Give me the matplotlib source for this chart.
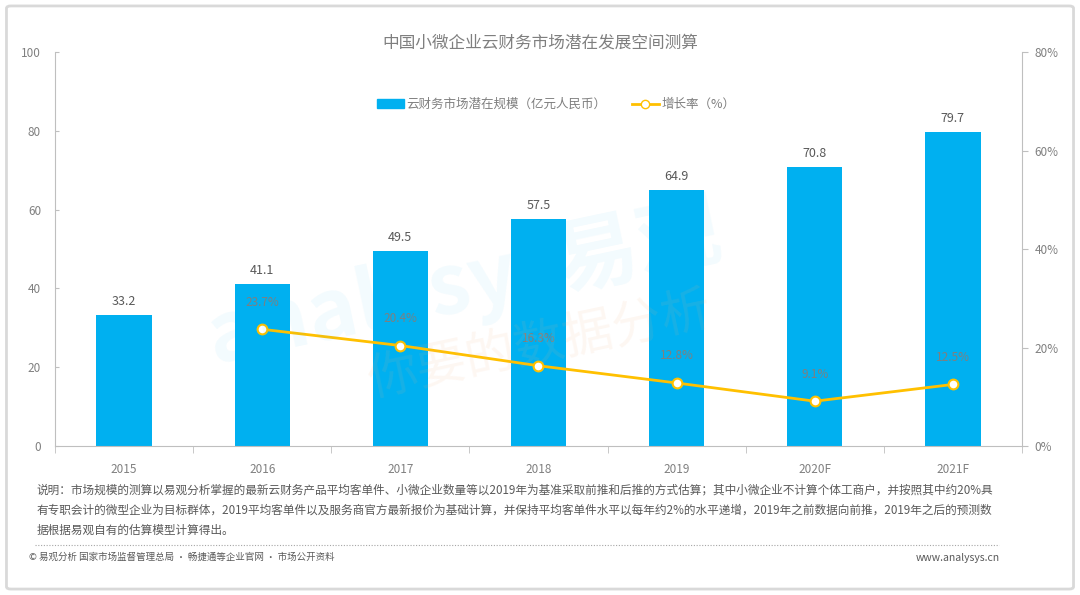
import matplotlib
matplotlib.use('Agg')
import matplotlib.pyplot as plt
from matplotlib.patches import FancyBboxPatch
from matplotlib.lines import Line2D
import numpy as np

plt.rcParams['font.family'] = ['Noto Sans CJK SC', 'DejaVu Sans']

years = ['2015', '2016', '2017', '2018', '2019', '2020F', '2021F']
market_size = [33.2, 41.1, 49.5, 57.5, 64.9, 70.8, 79.7]
growth_years = ['2016', '2017', '2018', '2019', '2020F', '2021F']
growth_rate = [23.7, 20.4, 16.3, 12.8, 9.1, 12.5]

title = '中国小微企业云财务市场潜在发展空间测算'
bar_label = '云财务市场潜在规模（亿元人民币）'
line_label = '增长率（%）'
note_lines = [
    '说明：市场规模的测算以易观分析掌握的最新云财务产品平均客单件、小微企业数量等以2019年为基准采取前推和后推的方式估算；其中小微企业不计算个体工商户，并按照其中约20%具',
    '有专职会计的微型企业为目标群体，2019平均客单件以及服务商官方最新报价为基础计算，并保持平均客单件水平以每年约2%的水平递增，2019年之前数据向前推，2019年之后的预测数',
    '据根据易观自有的估算模型计算得出。',
]
source = '© 易观分析 国家市场监督管理总局 · 畅捷通等企业官网 · 市场公开资料'
site = 'www.analysys.cn'

bar_color = '#00B0F0'
line_color = '#FFC000'
grey = '#808080'

fig = plt.figure(figsize=(10.8, 5.95), dpi=100)

# outer frame
frame = FancyBboxPatch((0.006, 0.01), 0.988, 0.98, boxstyle='round,pad=0,rounding_size=0.004',
                       transform=fig.transFigure, fill=False, edgecolor='#d9d9d9', linewidth=2)
fig.patches.append(frame)

ax = fig.add_axes([0.0509, 0.2504, 0.8954, 0.6622])
x = np.arange(len(years))
ax.bar(x, market_size, width=0.4, color=bar_color, zorder=2)
for xi, v in zip(x, market_size):
    ax.text(xi, v + 1.8, f'{v:.1f}', ha='center', va='bottom', fontsize=9, color='#595959')

ax.set_xlim(-0.5, len(years) - 0.5)
ax.set_ylim(0, 100)
ax.set_yticks(range(0, 101, 20))
ax.set_xticks(x)
ax.set_xticklabels(years)
ax.set_xticks(np.arange(-0.5, len(years), 1), minor=True)
ax.tick_params(axis='x', which='major', length=0, pad=12, labelsize=8.5, labelcolor=grey)
ax.tick_params(axis='x', which='minor', length=5, color='#bfbfbf', direction='out')
ax.tick_params(axis='y', length=3, direction='in', color='#bfbfbf', labelsize=8.5,
               labelcolor=grey, pad=10)
for s in ['top', 'right']:
    ax.spines[s].set_visible(False)
for s in ['left', 'bottom']:
    ax.spines[s].set_color('#bfbfbf')

ax2 = ax.twinx()
gx = [years.index(y) for y in growth_years]
ax2.plot(gx, growth_rate, color=line_color, linewidth=2, marker='o', markersize=7,
         markerfacecolor='white', markeredgecolor=line_color, markeredgewidth=1.5, zorder=3)
for xi, v in zip(gx, growth_rate):
    ax2.text(xi, v + 4.2, f'{v:.1f}%', ha='center', va='bottom', fontsize=8.5, color='#7f7f7f', zorder=4)
ax2.set_ylim(0, 80)
ax2.set_yticks(range(0, 81, 20))
ax2.set_yticklabels([f'{t}%' for t in range(0, 81, 20)])
ax2.tick_params(axis='y', length=4, color='#bfbfbf', labelsize=8.5, labelcolor=grey, pad=5)
for s in ['top', 'left', 'bottom']:
    ax2.spines[s].set_visible(False)
ax2.spines['right'].set_color('#bfbfbf')

# watermark
fig.text(0.43, 0.52, 'analysys易观', fontsize=60, color='#00B0F0', alpha=0.05,
         rotation=12, ha='center', va='center', fontweight='bold')
fig.text(0.5, 0.42, '你要的数据分析', fontsize=36, color='#F4B183', alpha=0.1,
         rotation=12, ha='center', va='center')

fig.text(0.5, 0.928, title, ha='center', va='center', fontsize=12, color='#7f7f7f')

handles = [plt.Rectangle((0, 0), 1, 1, color=bar_color),
           Line2D([0], [0], color=line_color, linewidth=2, marker='o', markersize=6,
                  markerfacecolor='white', markeredgecolor=line_color)]
fig.legend(handles, [bar_label, line_label], loc='center', bbox_to_anchor=(0.515, 0.824),
           ncol=2, frameon=False, fontsize=9, labelcolor='#7f7f7f', handlelength=2.2,
           handletextpad=0.2, columnspacing=2)

for i, line in enumerate(note_lines):
    fig.text(0.034, 0.176 - i * 0.034, line, ha='left', va='center', fontsize=8.4, color='#595959')

fig.add_artist(Line2D([0.032, 0.925], [0.084, 0.084], transform=fig.transFigure,
                      color='#a6a6a6', linestyle=(0, (1, 1.5)), linewidth=0.8))
fig.text(0.027, 0.063, source, ha='left', va='center', fontsize=6.8, color='#595959')
fig.text(0.926, 0.063, site, ha='right', va='center', fontsize=7.5, color='#595959')

fig.savefig('out.png', dpi=100)
